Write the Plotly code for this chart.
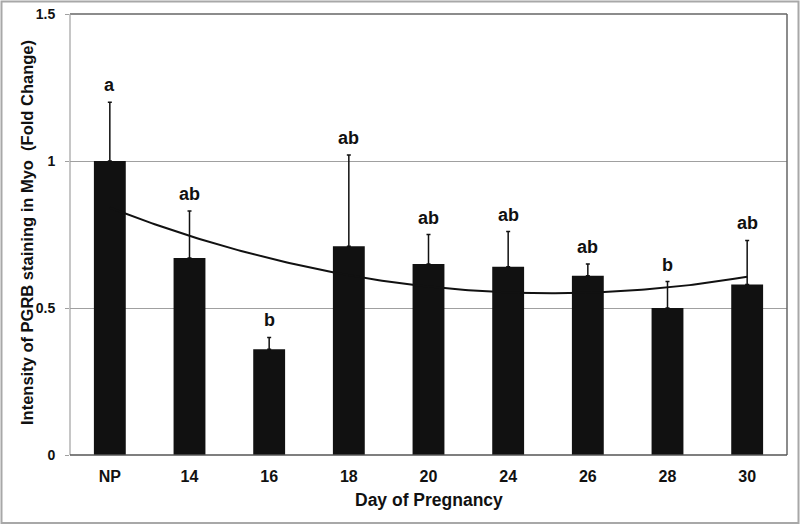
import numpy as np
import plotly.graph_objects as go

days = ["NP", "14", "16", "18", "20", "24", "26", "28", "30"]
means = [1.00, 0.67, 0.36, 0.71, 0.65, 0.64, 0.61, 0.50, 0.58]
err_tops = [1.20, 0.83, 0.40, 1.02, 0.75, 0.76, 0.65, 0.59, 0.73]
letters = ["a", "ab", "b", "ab", "ab", "ab", "ab", "b", "ab"]
y_ticks = [0, 0.5, 1, 1.5]
y_ticktext = ["0", "0.5", "1", "1.5"]
x_title = "Day of Pregnancy"
y_title = "Intensity of PGRB staining in Myo\u00a0 (Fold Change)"

FONT = "Liberation Sans, Arial, sans-serif"
xpos = list(range(len(days)))
err_plus = [t - m for t, m in zip(err_tops, means)]

# 2nd-order polynomial trendline (as in the original spreadsheet chart)
coef = np.polyfit(xpos, means, 2)
xt = np.linspace(xpos[0], xpos[-1], 200)
yt = np.polyval(coef, xt)

fig = go.Figure()
fig.add_trace(go.Bar(
    x=xpos, y=means, width=0.4, marker=dict(color="#111111", line=dict(width=0)),
    error_y=dict(type="data", array=err_plus, arrayminus=[0]*len(means), symmetric=False,
                 color="#111111", thickness=1.5, width=2),
    showlegend=False, hoverinfo="skip"))
fig.add_trace(go.Scatter(x=xt, y=yt, mode="lines", line=dict(color="#111111", width=2),
                         showlegend=False, hoverinfo="skip"))

W, H = 800, 526
L, R, T, B = 70, 13, 14, 71
pw, ph = W - L - R, H - T - B

annotations = [
    dict(x=x, y=t, text=s, showarrow=False, yanchor="bottom", yshift=5,
         font=dict(family=FONT, size=18, color="#111111", weight="bold"))
    for x, t, s in zip(xpos, err_tops, letters)
]
annotations.append(dict(xref="paper", yref="paper", x=0.5, y=-(500 - T - ph) / ph,
                        text=x_title, showarrow=False, xanchor="center", yanchor="middle",
                        font=dict(family=FONT, size=17.5, color="#111111", weight="bold")))
annotations.append(dict(xref="paper", yref="paper", x=(27 - L) / pw, y=1 - (233 - T) / ph,
                        text=y_title, showarrow=False, textangle=-90,
                        xanchor="center", yanchor="middle",
                        font=dict(family=FONT, size=16.5, color="#111111", weight="bold")))

fig.update_layout(
    width=W, height=H, margin=dict(l=L, r=R, t=T, b=B, autoexpand=False),
    paper_bgcolor="white", plot_bgcolor="white",
    font=dict(family=FONT, color="#111111"),
    annotations=annotations,
    xaxis=dict(range=[-0.5, 8.5], tickvals=xpos, ticktext=days, showgrid=False,
               zeroline=False, showline=False, ticks="", automargin=False,
               ticklabelstandoff=10,
               tickfont=dict(family=FONT, size=16, weight="bold")),
    yaxis=dict(range=[0, 1.5], tickvals=y_ticks, ticktext=y_ticktext, automargin=False,
               showgrid=True, gridcolor="#a0a0a0", gridwidth=1, zeroline=False,
               showline=False, ticks="outside", ticklen=4, tickcolor="#a0a0a0",
               ticklabelstandoff=7,
               tickfont=dict(family=FONT, size=14, weight="bold")),
    shapes=[
        # plot frame
        dict(type="line", xref="paper", yref="paper", x0=0, x1=1, y0=1, y1=1,
             line=dict(color="#666666", width=1.5)),
        dict(type="line", xref="paper", yref="paper", x0=1, x1=1, y0=0, y1=1,
             line=dict(color="#666666", width=1.5)),
        dict(type="line", xref="paper", yref="paper", x0=0, x1=0, y0=0, y1=1,
             line=dict(color="#a0a0a0", width=1.2)),
        dict(type="line", xref="paper", yref="paper", x0=0, x1=1, y0=0, y1=0,
             line=dict(color="#555555", width=1.5)),
        # outer image border
        dict(type="rect", xref="paper", yref="paper",
             x0=(1.5 - L) / pw, x1=(W - 1.5 - L) / pw,
             y0=-(H - 3 - T - ph) / ph, y1=1 + (T - 1.5) / ph,
             line=dict(color="#a8a8a8", width=2), fillcolor="rgba(0,0,0,0)", layer="below"),
    ],
)

fig.write_html("out.html", config={"displayModeBar": False},
               post_script="document.body.style.margin='0px';document.body.style.overflow='hidden';")
